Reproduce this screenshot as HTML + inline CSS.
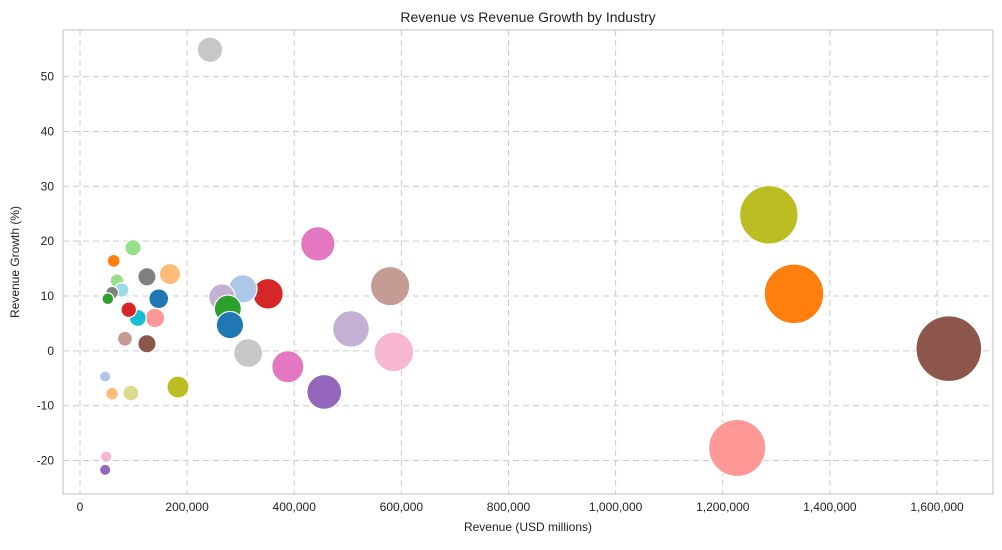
<!DOCTYPE html>
<html><head><meta charset="utf-8"><style>
body{margin:0;background:#fff;font-family:"Liberation Sans",Arial,sans-serif}
</style></head><body>
<svg id="chart" width="1002" height="545" xmlns="http://www.w3.org/2000/svg" font-family="Liberation Sans, Arial, sans-serif"></svg>
<script>
const revenues=[242700,1286000,1333000,1622000,1227000,579000,586000,506000,444000,456000,351000,388000,314000,304000,265000,276000,280000,183000,168000,125000,147000,140000,108000,91000,125000,84000,99000,63000,69000,78000,60000,52000,47000,60000,95000,49000,47000];
const growths=[54.9,24.8,10.4,0.4,-17.7,11.8,-0.2,4.0,19.5,-7.5,10.4,-2.9,-0.4,11.3,9.8,7.7,4.7,-6.6,14.0,13.5,9.5,6.0,6.0,7.5,1.3,2.2,18.8,16.4,12.8,11.1,10.6,9.5,-4.7,-7.8,-7.7,-19.3,-21.7];
const colors=["#c7c7c7","#bcbd22","#ff7f0e","#8c564b","#ff9896","#c49c94","#f7b6d2","#c5b0d5","#e377c2","#9467bd","#d62728","#e377c2","#c7c7c7","#aec7e8","#c5b0d5","#2ca02c","#1f77b4","#bcbd22","#ffbb78","#7f7f7f","#1f77b4","#ff9896","#17becf","#d62728","#8c564b","#c49c94","#98df8a","#ff7f0e","#98df8a","#9edae5","#7f7f7f","#2ca02c","#aec7e8","#ffbb78","#dbdb8d","#f7b6d2","#9467bd"];
const xTicks=[0,200000,400000,600000,800000,1000000,1200000,1400000,1600000];
const yTicks=[-20,-10,0,10,20,30,40,50];
const L=63,R=993,T=30,B=494;
const xMin=-31700,xMax=1704500,yMin=-26.1,yMax=58.5;
const sx=v=>L+(v-xMin)/(xMax-xMin)*(R-L);
const sy=v=>B-(v-yMin)/(yMax-yMin)*(B-T);
const svg=document.getElementById('chart');
const NS="http://www.w3.org/2000/svg";
function mk(tag,attrs,parent){const e=document.createElementNS(NS,tag);for(const k in attrs)e.setAttribute(k,attrs[k]);(parent||svg).appendChild(e);return e;}
const grid=mk('g',{});


xTicks.forEach(t=>{const x=sx(t);
 const l=mk('line',{x1:x,x2:x,y1:T,y2:B,stroke:'#cccccc','stroke-dasharray':'6,4','stroke-width':1},grid);
 
 
 const tx=mk('text',{x:x,y:B+17,'text-anchor':'middle','font-size':12,fill:'#222'});
 tx.textContent=t.toLocaleString('en-US');
 
 
});
yTicks.forEach(t=>{const y=sy(t);
 const l=mk('line',{x1:L,x2:R,y1:y,y2:y,stroke:'#cccccc','stroke-dasharray':'6,4','stroke-width':1},grid);
 
 
 const tx=mk('text',{x:L-9,y:y+4,'text-anchor':'end','font-size':12,fill:'#222'});
 tx.textContent=t;
 
 
});
const frame=mk('rect',{x:L,y:T,width:R-L,height:B-T,fill:'none',stroke:'#cccccc','stroke-width':1.2});


const order=revenues.map((v,i)=>i);
order.forEach(i=>{
 const r=0.0258*Math.sqrt(revenues[i]);
 const c=mk('circle',{cx:sx(revenues[i]),cy:sy(growths[i]),r:r,fill:colors[i],stroke:'#fff','stroke-width':1.2});
 
 
});
const title=mk('text',{x:(L+R)/2,y:22,'text-anchor':'middle','font-size':14,fill:'#222'});
title.textContent='Revenue vs Revenue Growth by Industry';


const xt=mk('text',{x:(L+R)/2,y:531,'text-anchor':'middle','font-size':12,fill:'#222'});
xt.textContent='Revenue (USD millions)';


const yt=mk('text',{x:19,y:(T+B)/2,'text-anchor':'middle','font-size':12,fill:'#222',transform:`rotate(-90 19 ${(T+B)/2})`});
yt.textContent='Revenue Growth (%)';


</script>
</body></html>
